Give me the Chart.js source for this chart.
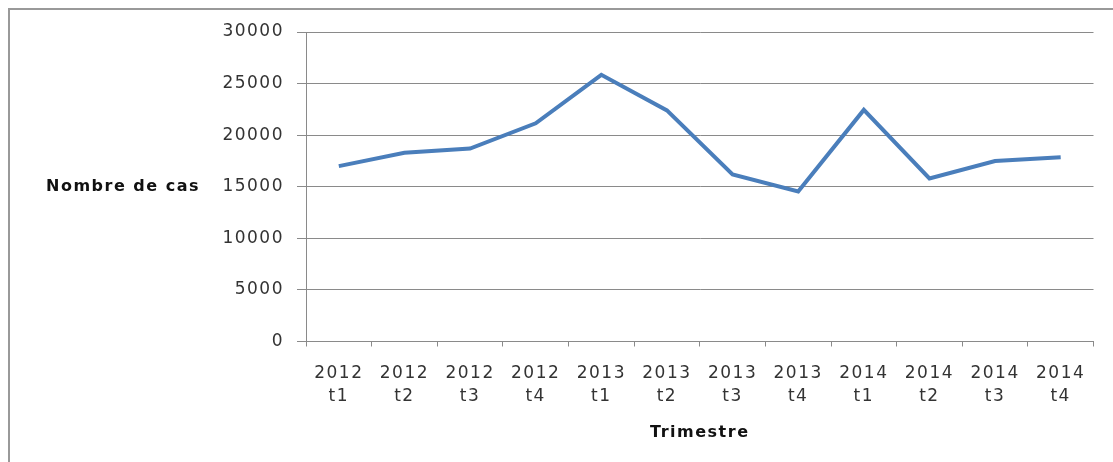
<!DOCTYPE html>
<html lang="fr">
<head>
    <meta charset="UTF-8">
    <title>Nombre de cas par trimestre</title>
    <script src="https://cdnjs.cloudflare.com/ajax/libs/Chart.js/4.4.0/chart.umd.min.js"></script>
    <style>
        html, body { margin: 0; padding: 0; background: #fff; }
        .wrap { position: relative; width: 1113px; height: 462px; overflow: hidden; }
        .frame {
            position: absolute; left: 8px; top: 8px; width: 1200px; height: 600px;
            border-left: 2px solid #999; border-top: 2px solid #999;
        }
        canvas { position: absolute; left: 0; top: 0; }
    </style>
</head>
<body>
    <div class="wrap">
        <div class="frame"></div>
        <canvas id="casChart" width="1113" height="462"></canvas>
    </div>

    <script>
        // Trimestres et nombre de cas
        const trimestres = [
            ['2012', 't1'], ['2012', 't2'], ['2012', 't3'], ['2012', 't4'],
            ['2013', 't1'], ['2013', 't2'], ['2013', 't3'], ['2013', 't4'],
            ['2014', 't1'], ['2014', 't2'], ['2014', 't3'], ['2014', 't4']
        ];
        const nombreDeCas = [17000, 18300, 18700, 21150, 25850, 22400, 16200, 14550, 22450, 15800, 17500, 17850];
        const yTitre = 'Nombre de cas';
        const xTitre = 'Trimestre';

        const gris = '#8a8a8a';
        const spacing = '1.5px';

        // wider letter spacing like the original picture
        const spacingPlugin = {
            id: 'spacing',
            beforeUpdate(chart) { chart.ctx.letterSpacing = spacing; },
            beforeLayout(chart) { chart.ctx.letterSpacing = spacing; },
            beforeDraw(chart) { chart.ctx.letterSpacing = spacing; }
        };

        // horizontal y-axis title on the left
        const yTitlePlugin = {
            id: 'yTitle',
            afterDraw(chart) {
                const { ctx, chartArea } = chart;
                ctx.save();
                ctx.letterSpacing = '1.5px';
                ctx.font = 'bold 16px "DejaVu Sans"';
                ctx.fillStyle = '#111';
                ctx.textAlign = 'left';
                ctx.textBaseline = 'middle';
                ctx.fillText(yTitre, 46, (chartArea.top + chartArea.bottom) / 2);
                ctx.restore();
            }
        };

        new Chart(document.getElementById('casChart'), {
            type: 'line',
            data: {
                labels: trimestres,
                datasets: [{
                    data: nombreDeCas,
                    borderColor: '#4a7ebb',
                    borderWidth: 4,
                    pointRadius: 0,
                    tension: 0,
                    fill: false
                }]
            },
            options: {
                responsive: false,
                animation: false,
                layout: { padding: { left: 0, right: 19.5, top: 32, bottom: 0 } },
                plugins: {
                    legend: { display: false },
                    tooltip: { enabled: false }
                },
                scales: {
                    x: {
                        offset: true,
                        afterFit: (scale) => { scale.height = 120.5; },
                        grid: { offset: true, drawOnChartArea: false, drawTicks: true, tickLength: 5, color: gris },
                        border: { color: gris },
                        ticks: {
                            autoSkip: false, maxRotation: 0, minRotation: 0,
                            padding: 16, color: '#333',
                            font: { family: '"DejaVu Sans"', size: 17, lineHeight: 1.35 }
                        },
                        title: {
                            display: true, text: xTitre, color: '#111',
                            font: { family: '"DejaVu Sans"', size: 16, weight: 'bold', lineHeight: 1.2 },
                            padding: { top: 0, bottom: 20 }
                        }
                    },
                    y: {
                        min: 0, max: 30000,
                        afterFit: (scale) => { scale.width = 306; },
                        grid: { color: gris, tickLength: 9 },
                        border: { color: gris },
                        ticks: {
                            stepSize: 5000, padding: 13, color: '#333',
                            font: { family: '"DejaVu Sans"', size: 17 },
                            callback: (v) => String(v)
                        }
                    }
                }
            },
            plugins: [spacingPlugin, yTitlePlugin]
        });
    </script>
</body>
</html>
